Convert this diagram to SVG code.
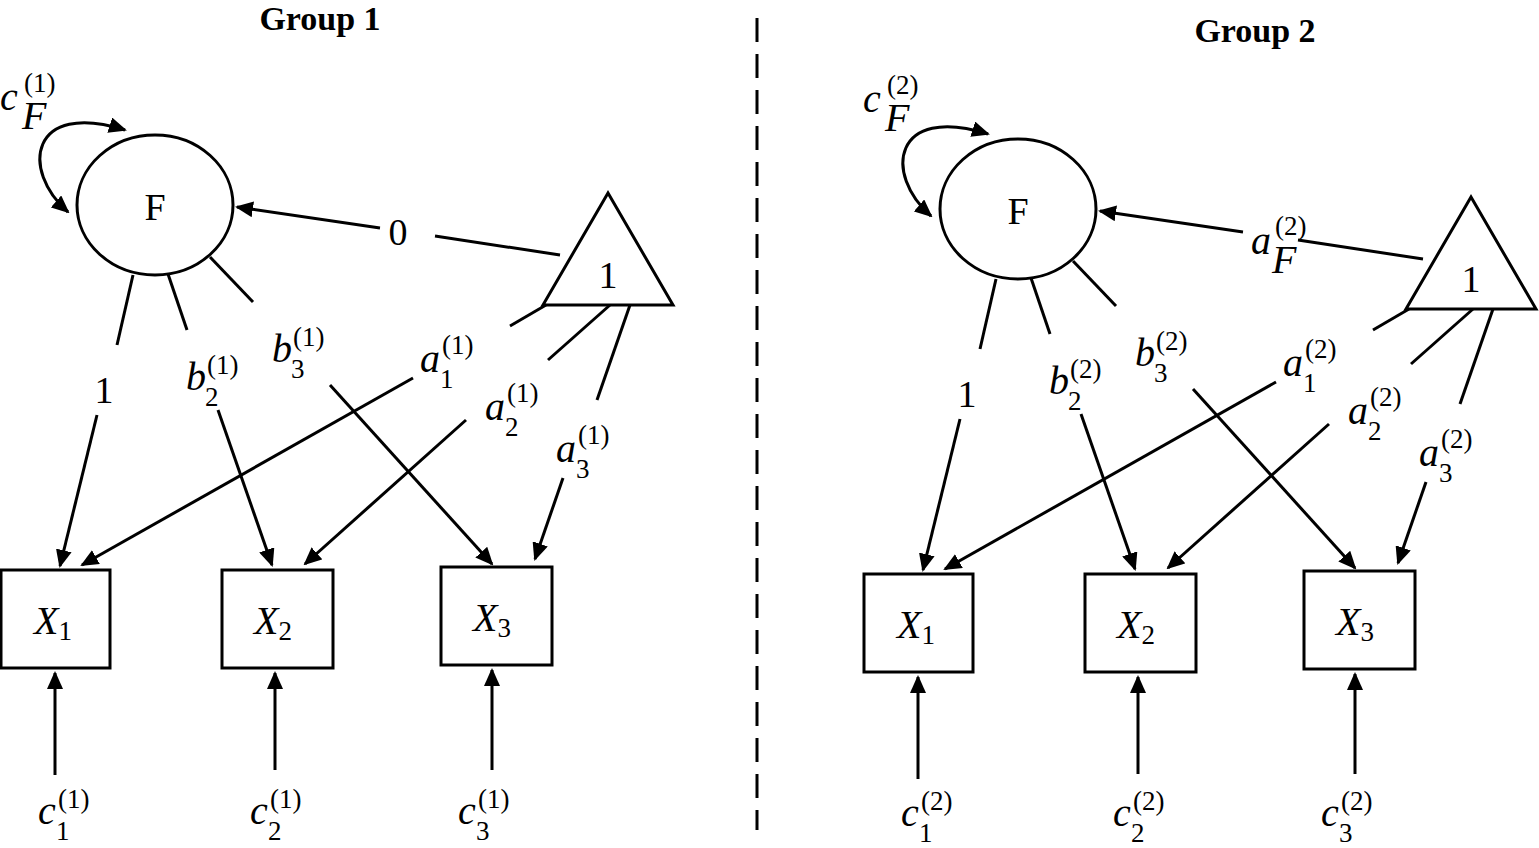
<svg xmlns="http://www.w3.org/2000/svg" width="1539" height="848" viewBox="0 0 1539 848">
<style>
.s{fill:none;stroke:#000;stroke-width:3}
.n{fill:#fff;stroke:#000;stroke-width:3}
.m{font-family:"Liberation Serif",serif;font-style:italic;font-size:40px}
.p{font-family:"Liberation Serif",serif;font-size:27px}
.q{font-family:"Liberation Serif",serif;font-size:38px}
.t{font-family:"Liberation Serif",serif;font-weight:bold;font-size:34px}
</style>
<defs>
<marker id="ahl" markerWidth="18" markerHeight="16" refX="16" refY="8" orient="auto-start-reverse" markerUnits="userSpaceOnUse"><path d="M0,0 L18,8 L0,16 z"/></marker>
<g id="panel">
<g class="connectors">
<path class="s" marker-start="url(#ahl)" marker-end="url(#ahl)" d="M68,212 C20,170 30,100 125,130"/>
<line class="s" x1="560" y1="255" x2="435" y2="236"/>
<line class="s" x1="380" y1="228" x2="237" y2="207" marker-end="url(#ahl)"/>
<line class="s" x1="133" y1="275" x2="117" y2="345"/>
<line class="s" x1="97" y1="415" x2="60" y2="566" marker-end="url(#ahl)"/>
<line class="s" x1="168" y1="274" x2="187" y2="330"/>
<line class="s" x1="218" y1="410" x2="272" y2="565" marker-end="url(#ahl)"/>
<line class="s" x1="210" y1="257" x2="253" y2="302"/>
<line class="s" x1="330" y1="385" x2="492" y2="564" marker-end="url(#ahl)"/>
<line class="s" x1="546" y1="305" x2="510" y2="326"/>
<line class="s" x1="413" y1="378" x2="82" y2="565" marker-end="url(#ahl)"/>
<line class="s" x1="610" y1="305" x2="548" y2="360"/>
<line class="s" x1="466" y1="420" x2="305" y2="564" marker-end="url(#ahl)"/>
<line class="s" x1="630" y1="305" x2="597" y2="400"/>
<line class="s" x1="563" y1="478" x2="535" y2="559" marker-end="url(#ahl)"/>
<line class="s" x1="55" y1="775" x2="55" y2="673" marker-end="url(#ahl)"/>
<line class="s" x1="275" y1="770" x2="275" y2="673" marker-end="url(#ahl)"/>
<line class="s" x1="492" y1="770" x2="492" y2="670" marker-end="url(#ahl)"/>
</g>
<g id="F"><ellipse class="n" cx="155" cy="205" rx="78" ry="70"/><text class="q" x="155" y="220" text-anchor="middle" font-size="44">F</text></g>
<g id="one"><polygon class="n" points="608,193 543,305 673,305"/><text class="q" x="608" y="288" text-anchor="middle">1</text></g>
<g id="X1"><rect class="n" x="1" y="570" width="109" height="98"/><text x="34" y="634"><tspan class="m" font-size="38">X</tspan><tspan class="p" font-size="24" dy="6">1</tspan></text></g>
<g id="X2"><rect class="n" x="222" y="570" width="111" height="98"/><text x="254" y="634"><tspan class="m" font-size="38">X</tspan><tspan class="p" font-size="24" dy="6">2</tspan></text></g>
<g id="X3"><rect class="n" x="441" y="567" width="111" height="98"/><text x="473" y="631"><tspan class="m" font-size="38">X</tspan><tspan class="p" font-size="24" dy="6">3</tspan></text></g>
<text class="q" x="104" y="403" text-anchor="middle">1</text>
</g>
</defs>
<g id="group1">
<use href="#panel"/>
<text class="t" x="320" y="30" text-anchor="middle">Group 1</text>
<text class="q" x="398" y="245" text-anchor="middle">0</text>
<text class="m" x="0" y="110">c</text><text class="m" x="22" y="129" font-size="20">F</text><text class="p" x="24" y="92">(1)</text>
<text class="m" x="186" y="390">b</text><text class="p" x="205" y="406">2</text><text class="p" x="207" y="374">(1)</text>
<text class="m" x="272" y="362">b</text><text class="p" x="291" y="378">3</text><text class="p" x="293" y="346">(1)</text>
<text class="m" x="420" y="372">a</text><text class="p" x="440" y="388">1</text><text class="p" x="442" y="354">(1)</text>
<text class="m" x="485" y="420">a</text><text class="p" x="505" y="436">2</text><text class="p" x="507" y="402">(1)</text>
<text class="m" x="556" y="462">a</text><text class="p" x="576" y="478">3</text><text class="p" x="578" y="444">(1)</text>
<text class="m" x="38" y="824">c</text><text class="p" x="56" y="840">1</text><text class="p" x="58" y="808">(1)</text>
<text class="m" x="250" y="824">c</text><text class="p" x="268" y="840">2</text><text class="p" x="270" y="808">(1)</text>
<text class="m" x="458" y="824">c</text><text class="p" x="476" y="840">3</text><text class="p" x="478" y="808">(1)</text>
</g>
<line id="divider" x1="757" y1="18" x2="757" y2="830" stroke="#000" stroke-width="3" stroke-dasharray="24,12"/>
<g id="group2">
<g transform="translate(863,4)"><use href="#panel"/></g>
<text class="t" x="1255" y="42" text-anchor="middle">Group 2</text>
<g transform="translate(863,2)">
<text class="m" x="388" y="252">a</text><text class="m" x="409" y="271" font-size="20">F</text><text class="p" x="412" y="233">(2)</text>
<text class="m" x="0" y="110">c</text><text class="m" x="22" y="129" font-size="20">F</text><text class="p" x="24" y="92">(2)</text>
<text class="m" x="186" y="392">b</text><text class="p" x="205" y="408">2</text><text class="p" x="207" y="376">(2)</text>
<text class="m" x="272" y="364">b</text><text class="p" x="291" y="380">3</text><text class="p" x="293" y="348">(2)</text>
<text class="m" x="420" y="374">a</text><text class="p" x="440" y="390">1</text><text class="p" x="442" y="356">(2)</text>
<text class="m" x="485" y="422">a</text><text class="p" x="505" y="438">2</text><text class="p" x="507" y="404">(2)</text>
<text class="m" x="556" y="464">a</text><text class="p" x="576" y="480">3</text><text class="p" x="578" y="446">(2)</text>
<text class="m" x="38" y="824">c</text><text class="p" x="56" y="840">1</text><text class="p" x="58" y="808">(2)</text>
<text class="m" x="250" y="824">c</text><text class="p" x="268" y="840">2</text><text class="p" x="270" y="808">(2)</text>
<text class="m" x="458" y="824">c</text><text class="p" x="476" y="840">3</text><text class="p" x="478" y="808">(2)</text>
</g>
</g>
</svg>
